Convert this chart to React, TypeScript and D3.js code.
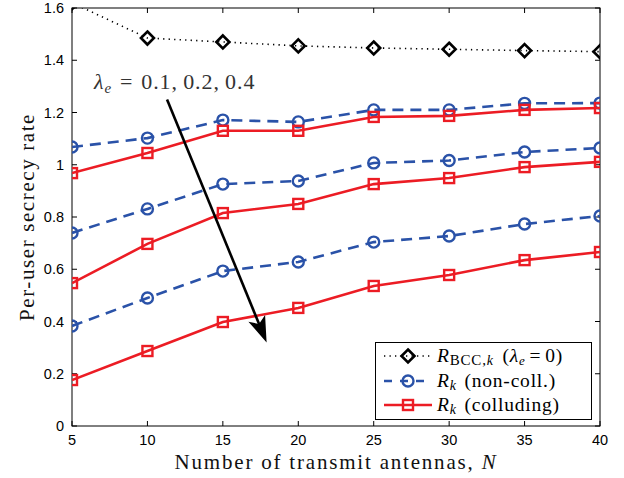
import React, { useRef, useEffect } from "react";
import * as d3 from "d3";

const WIDTH = 624;
const HEIGHT = 478;

// number of transmit antennas N
const antennas = [5, 10, 15, 20, 25, 30, 35, 40];
// R_BCC,k (lambda_e = 0)
const bccRate = [1.62, 1.485, 1.47, 1.455, 1.447, 1.442, 1.437, 1.433];
// R_k non-colluding, lambda_e = 0.1, 0.2, 0.4
const nonColl01 = [1.068, 1.102, 1.171, 1.164, 1.21, 1.21, 1.235, 1.236];
const nonColl02 = [0.739, 0.831, 0.926, 0.938, 1.007, 1.016, 1.049, 1.064];
const nonColl04 = [0.383, 0.49, 0.593, 0.628, 0.704, 0.727, 0.773, 0.804];
// R_k colluding, lambda_e = 0.1, 0.2, 0.4
const coll01 = [0.968, 1.045, 1.13, 1.13, 1.183, 1.187, 1.21, 1.217];
const coll02 = [0.547, 0.697, 0.815, 0.85, 0.926, 0.949, 0.991, 1.011];
const coll04 = [0.176, 0.287, 0.398, 0.452, 0.536, 0.578, 0.635, 0.666];

const xTicks = [5, 10, 15, 20, 25, 30, 35, 40];
const yTicks = [0, 0.2, 0.4, 0.6, 0.8, 1, 1.2, 1.4, 1.6];

// arrow annotation (data coords)
const arrowFrom = [11.3, 1.25];
const arrowTo = [17.9, 0.32];

const RED = "#ec1c24";
const BLUE = "#2a52a8";
const SERIF = "'Liberation Serif', 'DejaVu Serif', serif";
const SANS = "'Liberation Sans', Arial, sans-serif";

const margin = { top: 8, right: 24, bottom: 52, left: 72 };

function App() {
  const svgRef = useRef(null);

  useEffect(() => {
    const svg = d3.select(svgRef.current);
    svg.selectAll("*").remove();

    const x = d3.scaleLinear().domain([5, 40]).range([margin.left, WIDTH - margin.right]);
    const y = d3.scaleLinear().domain([0, 1.6]).range([HEIGHT - margin.bottom, margin.top]);
    const [x0, x1] = x.range();
    const [y0, y1] = y.range();

    svg
      .append("defs")
      .append("clipPath")
      .attr("id", "plotClip")
      .append("rect")
      .attr("x", x0)
      .attr("y", y1)
      .attr("width", x1 - x0)
      .attr("height", y0 - y1);

    // axes box with inward ticks
    const axes = svg.append("g").attr("stroke", "#000").attr("stroke-width", 1);
    axes
      .append("rect")
      .attr("x", x0)
      .attr("y", y1)
      .attr("width", x1 - x0)
      .attr("height", y0 - y1)
      .attr("fill", "none");
    const tl = 5;
    xTicks.forEach((t) => {
      axes.append("line").attr("x1", x(t)).attr("x2", x(t)).attr("y1", y0).attr("y2", y0 - tl);
      axes.append("line").attr("x1", x(t)).attr("x2", x(t)).attr("y1", y1).attr("y2", y1 + tl);
    });
    yTicks.forEach((t) => {
      axes.append("line").attr("x1", x0).attr("x2", x0 + tl).attr("y1", y(t)).attr("y2", y(t));
      axes.append("line").attr("x1", x1).attr("x2", x1 - tl).attr("y1", y(t)).attr("y2", y(t));
    });

    const labels = svg.append("g").attr("font-family", SANS).attr("font-size", 14.5).attr("fill", "#000");
    xTicks.forEach((t) => {
      labels.append("text").attr("x", x(t)).attr("y", y0 + 19).attr("text-anchor", "middle").text(t);
    });
    yTicks.forEach((t) => {
      labels
        .append("text")
        .attr("x", x0 - 8)
        .attr("y", y(t) + 5)
        .attr("text-anchor", "end")
        .text(d3.format("~g")(t));
    });

    svg
      .append("text")
      .attr("x", (x0 + x1) / 2)
      .attr("y", HEIGHT - 9)
      .attr("text-anchor", "middle")
      .attr("font-family", SERIF)
      .attr("font-size", 21)
      .attr("letter-spacing", 1.8)
      .attr("fill", "#111")
      .text("Number of transmit antennas, ")
      .append("tspan")
      .attr("font-style", "italic")
      .text("N");

    svg
      .append("text")
      .attr("transform", `translate(34, ${(y0 + y1) / 2}) rotate(-90)`)
      .attr("text-anchor", "middle")
      .attr("font-family", SERIF)
      .attr("font-size", 21)
      .attr("letter-spacing", 1.6)
      .attr("fill", "#111")
      .text("Per-user secrecy rate");

    const plot = svg.append("g").attr("clip-path", "url(#plotClip)");
    const line = d3
      .line<number>()
      .x((d, i) => x(antennas[i]))
      .y((d) => y(d));

    const diamond = (g, cx, cy, r) =>
      g
        .append("path")
        .attr("d", `M${cx},${cy - r}L${cx + r},${cy}L${cx},${cy + r}L${cx - r},${cy}Z`)
        .attr("fill", "none")
        .attr("stroke", "#000")
        .attr("stroke-width", 2.6);
    const circle = (g, cx, cy) =>
      g
        .append("circle")
        .attr("cx", cx)
        .attr("cy", cy)
        .attr("r", 5.5)
        .attr("fill", "none")
        .attr("stroke", BLUE)
        .attr("stroke-width", 2.4);
    const square = (g, cx, cy) =>
      g
        .append("rect")
        .attr("x", cx - 5)
        .attr("y", cy - 5)
        .attr("width", 10)
        .attr("height", 10)
        .attr("fill", "none")
        .attr("stroke", RED)
        .attr("stroke-width", 2.4);

    // BCC
    plot
      .append("path")
      .datum(bccRate)
      .attr("d", line)
      .attr("fill", "none")
      .attr("stroke", "#000")
      .attr("stroke-width", 1.6)
      .attr("stroke-dasharray", "1.3 4.2");
    bccRate.forEach((v, i) => diamond(plot, x(antennas[i]), y(v), 6.5));

    [
      [nonColl01, coll01],
      [nonColl02, coll02],
      [nonColl04, coll04],
    ].forEach(([nc, c]) => {
      plot
        .append("path")
        .datum(nc)
        .attr("d", line)
        .attr("fill", "none")
        .attr("stroke", BLUE)
        .attr("stroke-width", 2.6)
        .attr("stroke-dasharray", "11 7");
      nc.forEach((v, i) => circle(plot, x(antennas[i]), y(v)));
      plot
        .append("path")
        .datum(c)
        .attr("d", line)
        .attr("fill", "none")
        .attr("stroke", RED)
        .attr("stroke-width", 2.6);
      c.forEach((v, i) => square(plot, x(antennas[i]), y(v)));
    });

    // arrow annotation
    const ax0 = x(arrowFrom[0]);
    const ay0 = y(arrowFrom[1]);
    const ax1 = x(arrowTo[0]);
    const ay1 = y(arrowTo[1]);
    const len = Math.hypot(ax1 - ax0, ay1 - ay0);
    const ux = (ax1 - ax0) / len;
    const uy = (ay1 - ay0) / len;
    const headL = 26;
    const headW = 9;
    const bx = ax1 - ux * headL;
    const by = ay1 - uy * headL;
    const nx = bx + ux * 6;
    const ny = by + uy * 6;
    svg
      .append("line")
      .attr("x1", ax0)
      .attr("y1", ay0)
      .attr("x2", bx + ux * 8)
      .attr("y2", by + uy * 8)
      .attr("stroke", "#000")
      .attr("stroke-width", 2.6);
    svg
      .append("path")
      .attr(
        "d",
        `M${ax1},${ay1}L${bx - uy * headW},${by + ux * headW}L${nx},${ny}L${bx + uy * headW},${by - ux * headW}Z`
      )
      .attr("fill", "#000");

    const ann = svg
      .append("text")
      .attr("x", 94)
      .attr("y", 89)
      .attr("font-family", SERIF)
      .attr("font-size", 22)
      .attr("letter-spacing", 0.9)
      .attr("fill", "#333");
    ann.append("tspan").attr("font-style", "italic").text("λ");
    ann.append("tspan").attr("font-style", "italic").attr("font-size", 15).attr("dy", 4).text("e");
    ann.append("tspan").attr("dy", -4).attr("dx", 8).text("=");
    ann.append("tspan").attr("dx", 8).text("0.1,\u20090.2,\u20090.4");

    // legend
    const lg = svg.append("g");
    lg.append("rect")
      .attr("x", 375.5)
      .attr("y", 342.5)
      .attr("width", 216)
      .attr("height", 77)
      .attr("fill", "#fff")
      .attr("stroke", "#000")
      .attr("stroke-width", 1);
    const rows = [
      { yy: 356, kind: "bcc", sub: "BCC,", rest: "" },
      { yy: 381, kind: "nc", sub: "", rest: " (non-coll.)" },
      { yy: 405, kind: "c", sub: "", rest: " (colluding)" },
    ];
    rows.forEach((r) => {
      const ln = lg
        .append("line")
        .attr("x1", 384)
        .attr("x2", 432)
        .attr("y1", r.yy)
        .attr("y2", r.yy)
        .attr("fill", "none");
      if (r.kind === "bcc") {
        ln.attr("stroke", "#000").attr("stroke-width", 1.6).attr("stroke-dasharray", "1.3 4.2");
        diamond(lg, 408, r.yy, 6.5);
      } else if (r.kind === "nc") {
        ln.attr("stroke", BLUE).attr("stroke-width", 2.6).attr("stroke-dasharray", "8 8");
        circle(lg, 408, r.yy);
      } else {
        ln.attr("stroke", RED).attr("stroke-width", 2.6);
        square(lg, 408, r.yy);
      }
      const t = lg
        .append("text")
        .attr("x", 437)
        .attr("y", r.yy + 6)
        .attr("font-family", SERIF)
        .attr("font-size", 19.5)
        .attr("letter-spacing", 0.8)
        .attr("fill", "#000");
      t.append("tspan").attr("font-style", "italic").text("R");
      if (r.sub) t.append("tspan").attr("font-size", 15).attr("dy", 3).text(r.sub);
      t.append("tspan")
        .attr("font-size", 14)
        .attr("font-style", "italic")
        .attr("dy", r.sub ? 0 : 3)
        .text("k");
      if (r.kind === "bcc") {
        t.append("tspan").attr("dy", -3).attr("dx", 3).text(" (");
        t.append("tspan").attr("font-style", "italic").text("λ");
        t.append("tspan").attr("font-size", 13).attr("font-style", "italic").attr("dy", 3).text("e");
        t.append("tspan").attr("dy", -3).attr("dx", 4).text("=");
        t.append("tspan").attr("dx", 4).text("0)");
      } else {
        t.append("tspan").attr("dy", -3).attr("dx", 2).text(r.rest);
      }
    });
  }, []);

  return (
    <div style={{ position: "absolute", left: 0, top: 0 }}>
      <svg ref={svgRef} width={WIDTH} height={HEIGHT} style={{ display: "block", background: "#fff" }} />
    </div>
  );
}

export default App;
